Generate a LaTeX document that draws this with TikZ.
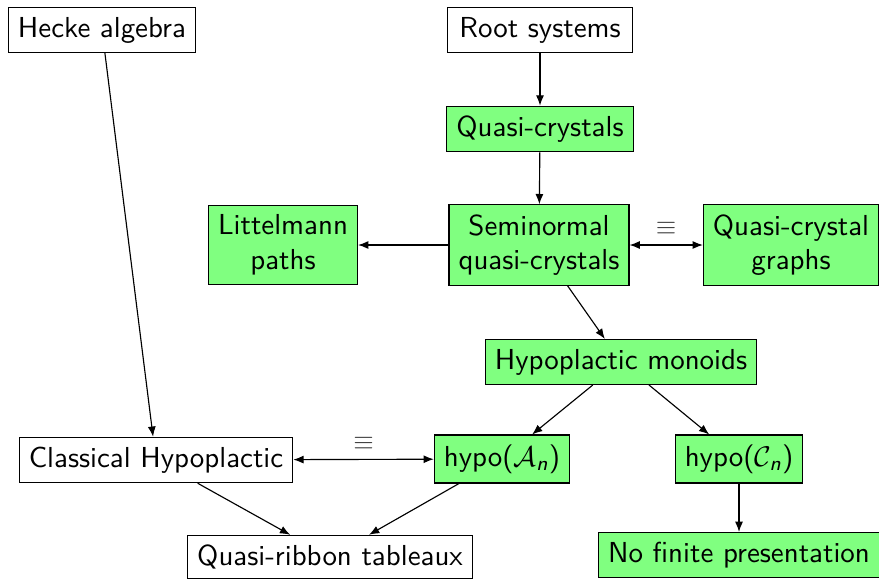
\documentclass[tikz,border=0pt]{standalone}
\usepackage{amsmath}
\usetikzlibrary{arrows.meta}
\begin{document}
\begin{tikzpicture}[x=0.351pt,y=-0.351pt,
  font=\fontsize{10.15}{12.2}\selectfont\sffamily,
  box/.style={draw=black, fill=white, line width=0.4pt, align=center},
  gbox/.style={box, fill=green!50},
  link/.style={-{Latex[length=3.6pt,width=2.8pt]}, line width=0.4pt},
  both/.style={{Latex[length=3.6pt,width=2.8pt]}-{Latex[length=3.6pt,width=2.8pt]}, line width=0.4pt},
  eqv/.style={above, text=black!75, font=\small}]
\useasboundingbox (0,0) rectangle (879,578);

% nodes
\node[box]  (hecke) at (102,30)  {Hecke algebra};
\node[box, minimum width=185*0.351pt]  (root)  at (540,30)  {Root systems};
\node[gbox, minimum width=185*0.351pt] (qc)    at (540,129) {Quasi-crystals};
\node[gbox] (litt)  at (283,245) {Littelmann\\paths};
\node[gbox] (semi)  at (539,245) {Seminormal\\quasi-crystals};
\node[gbox] (qcg)   at (791,245) {Quasi-crystal\\graphs};
\node[gbox] (hypm)  at (621,362) {Hypoplactic monoids};
\node[box]  (class) at (156,460) {Classical Hypoplactic};
\node[gbox] (hypa)  at (502,459) {hypo($\mathcal{A}_{\textsf{\itshape n}}$)};
\node[gbox] (hypc)  at (739,459) {hypo($\mathcal{C}_{\textsf{\itshape n}}$)};
\node[box]  (qrt)   at (330,557) {Quasi-ribbon tableaux};
\node[gbox] (nfp)   at (739,555) {No finite presentation};

% connectors
\draw[link] (hecke) -- (class);
\draw[link] (root) -- (qc);
\draw[link] (qc) -- (semi);
\draw[link] (semi) -- (litt);
\draw[both] (semi) -- node[eqv] {$\equiv$} (qcg);
\draw[link] (semi) -- (hypm);
\draw[link] (hypm) -- (hypa);
\draw[link] (hypm) -- (hypc);
\draw[both] (class) -- node[eqv] {$\equiv$} (hypa);
\draw[link] (class) -- (qrt);
\draw[link] (hypa) -- (qrt);
\draw[link] (hypc) -- (nfp);
\end{tikzpicture}
\end{document}
